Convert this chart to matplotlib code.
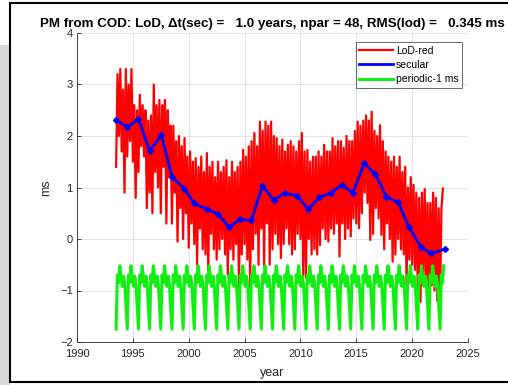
import numpy as np
import matplotlib
matplotlib.use("Agg")
import matplotlib.pyplot as plt
from matplotlib.patches import Rectangle

plt.rcParams['font.family'] = ['Liberation Sans', 'DejaVu Sans']

# LoD-red, 8 samples per year starting 1993.5
red_start = 1993.5
red_vals = [
    1.4, 3.2, 2.0, 3.3, 1.7, 2.9, 0.9, 3.3,
    1.6, 3.0, 1.9, 3.3, 1.5, 2.6, 0.8, 2.5,
    1.3, 2.8, 1.8, 2.6, 1.6, 2.5, 0.6, 2.3,
    0.9, 2.4, 0.5, 3.0, 1.3, 2.6, 1.0, 2.7,
    0.5, 2.6, 1.4, 2.7, 0.3, 2.5, 1.2, 2.2,
    0.3, 2.2, 0.9, 1.9, -0.05, 2.0, 0.6, 1.8,
    0.0, 1.96, 0.5, 1.6, -0.17, 1.7, 0.3, 1.5,
    -0.1, 1.57, -0.5, 1.4, 0.2, 1.6, -0.2, 1.3,
    -0.3, 1.67, -0.63, 1.4, 0.1, 1.5, -0.2, 1.2,
    -0.4, 1.5, -0.2, 1.3, 0.0, 1.4, -0.3, 1.53,
    -0.7, 1.2, -0.2, 1.5, -0.4, 1.3, -0.1, 1.4,
    -1.02, 1.5, -0.3, 1.73, -0.1, 1.6, -0.4, 1.8,
    -1.02, 1.9, -0.2, 2.06, 0.1, 1.8, -0.5, 2.28,
    0.2, 2.1, -0.56, 2.28, 0.3, 2.2, -0.5, 2.28,
    -0.2, 2.0, 0.1, 1.96, -0.1, 1.8, -0.37, 1.93,
    -0.1, 1.7, 0.2, 1.83, -0.1, 1.9, -0.3, 1.8,
    -0.2, 1.7, 0.1, 1.9, 0.0, 2.06, -0.73, 1.7,
    -0.76, 1.73, 0.0, 1.5, -0.3, 1.6, -0.2, 1.6,
    -0.3, 1.7, -0.12, 1.6, 0.2, 1.83, 0.0, 1.7,
    -0.05, 1.7, 0.2, 1.96, 0.1, 1.8, 0.3, 1.9,
    -0.34, 1.9, 0.3, 1.77, 0.0, 2.0, 0.2, 1.9,
    0.05, 1.9, 0.4, 2.1, 0.3, 2.28, 0.21, 2.2,
    0.5, 2.3, 0.9, 2.4, 0.7, 2.3, -0.02, 2.47,
    0.1, 2.1, 0.6, 2.0, 0.4, 2.21, 0.08, 1.9,
    -0.2, 1.7, 0.3, 1.6, 0.0, 1.5, -0.44, 1.6,
    -0.3, 1.4, 0.0, 1.6, -0.2, 1.3, -0.3, 1.4,
    -0.9, 1.0, -0.4, 1.2, -0.5, 1.05, -0.6, 0.9,
    -1.0, 0.8, -1.22, 0.9, -0.7, 0.97, -0.9, 0.7,
    -1.15, 0.7, -0.9, 0.9, -1.0, 0.8, -1.2, 0.6,
    -1.2, 0.6, 0.98,
]

# secular fit points
sec_years = [1993.45, 1994.5, 1995.5, 1996.5, 1997.55, 1998.5, 1999.6, 2000.5,
             2001.6, 2002.6, 2003.6, 2004.6, 2005.6, 2006.6, 2007.6, 2008.6,
             2009.7, 2010.7, 2011.7, 2012.7, 2013.7, 2014.7, 2015.7, 2016.7,
             2017.7, 2018.75, 2019.7, 2020.8, 2021.7, 2022.9]
sec_vals = [2.32, 2.17, 2.33, 1.71, 2.02, 1.21, 0.98, 0.69,
            0.58, 0.49, 0.23, 0.38, 0.36, 1.03, 0.76, 0.89,
            0.84, 0.58, 0.81, 0.89, 1.05, 0.90, 1.47, 1.26,
            0.82, 0.71, 0.24, -0.16, -0.28, -0.20]

# periodic-1 ms: one yearly cycle (the curve repeats)
per_start = 1993.5
per_end = 2022.85
per_cycle = [-1.75, -0.70, -0.85, -0.52, -0.75, -0.92, -0.72, -0.88, -1.30]

red_x = red_start + np.arange(len(red_vals)) / 8.0
n_per = int((per_end - per_start) * len(per_cycle)) + 1
per_x = per_start + np.arange(n_per) / len(per_cycle)
per_y = np.tile(per_cycle, 31)[:n_per]

fig = plt.figure(figsize=(5.08, 3.85), dpi=100)
fig.patches.append(Rectangle((0, 0), 10 / 508, 340 / 385, transform=fig.transFigure,
                             facecolor='#d9d9d9', edgecolor='none', zorder=-10))
fig.patches.append(Rectangle((10 / 508, 3 / 385), 500 / 508, 379 / 385, transform=fig.transFigure,
                             facecolor='white', edgecolor='black', lw=1.5, zorder=-9))

ax = fig.add_axes([77 / 508, 43 / 385, 391 / 508, 309 / 385])
ax.plot(red_x, red_vals, color='#ff0000', lw=1.6, label='LoD-red')
ax.plot(sec_years, sec_vals, color='#0000ff', lw=2, marker='D', ms=3, label='secular')
ax.plot(per_x, per_y, color='#11ee11', lw=2.2, label='periodic-1 ms')

ax.set_xlim(1990, 2025)
ax.set_ylim(-2, 4)
ax.set_xticks(range(1990, 2026, 5))
ax.set_yticks(range(-2, 5))
ax.grid(True, color='#dedede', lw=0.6)
ax.set_axisbelow(True)
for s in ['top', 'right']:
    ax.spines[s].set_visible(False)
for s in ['left', 'bottom']:
    ax.spines[s].set_color('#262626')
    ax.spines[s].set_linewidth(0.6)
ax.tick_params(direction='in', length=3, width=0.6, labelsize=8, colors='#262626')
ax.tick_params(axis='x', pad=5)
ax.tick_params(axis='y', pad=3)
ax.set_xlabel('year', fontsize=9, color='#262626', labelpad=6)
ax.set_ylabel('ms', fontsize=9, color='#262626', labelpad=6)
ax.set_title('PM from COD: LoD, \u0394t(sec) =   1.0 years, npar = 48, RMS(lod) =   0.345 ms',
             fontsize=9.6, fontweight='bold', pad=4)

leg = ax.legend(loc='upper right', bbox_to_anchor=(0.985, 0.97), fontsize=7.5,
                frameon=True, fancybox=False, handlelength=3.2, handletextpad=0.3,
                borderpad=0.35, labelspacing=0.4, borderaxespad=0)
leg.get_frame().set_edgecolor('#262626')
leg.get_frame().set_linewidth(0.6)
for h in leg.get_lines():
    h.set_marker('')

fig.savefig('out.png', dpi=100)
